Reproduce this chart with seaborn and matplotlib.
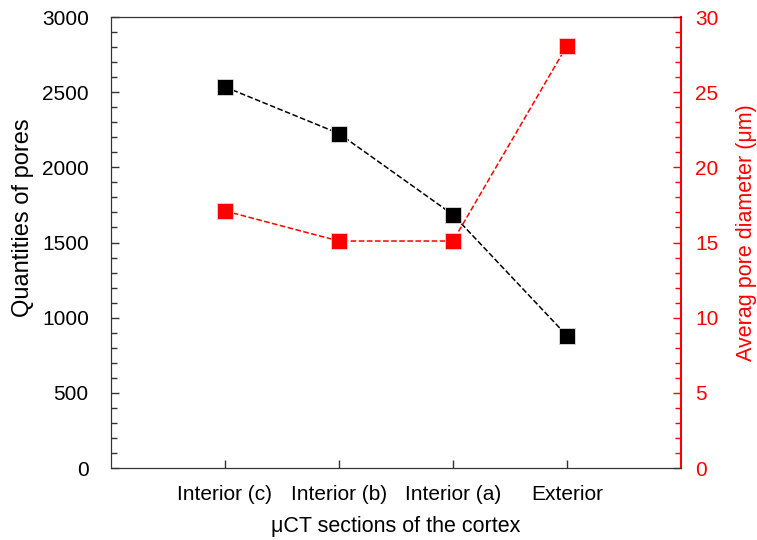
import numpy as np
import matplotlib
matplotlib.use("Agg")
import matplotlib.pyplot as plt
import seaborn as sns
from matplotlib.ticker import MultipleLocator

sns.set_style("ticks")
plt.rcParams['font.family'] = ['Liberation Sans', 'DejaVu Sans']
plt.rcParams['text.color'] = 'black'
plt.rcParams['axes.labelcolor'] = 'black'
plt.rcParams['xtick.labelcolor'] = 'black'
plt.rcParams['ytick.labelcolor'] = 'black'

# data
sections = ['Interior (c)', 'Interior (b)', 'Interior (a)', 'Exterior']
pores = [2535, 2225, 1685, 880]
diameter = [17.1, 15.1, 15.1, 28.1]
xpos = [1, 2, 3, 4]

fig = plt.figure(figsize=(7.57, 5.4), dpi=100)
ax = fig.add_axes([0.1466, 0.1333, 0.8996 - 0.1466, 0.9685 - 0.1333])
ax2 = ax.twinx()

sns.lineplot(x=xpos, y=pores, ax=ax, color='black', linestyle='--', linewidth=1.1,
             marker='s', markersize=11, markeredgecolor='#dddddd', markeredgewidth=0.6)
sns.lineplot(x=xpos, y=diameter, ax=ax2, color='red', linestyle='--', linewidth=1.1,
             marker='s', markersize=11, markeredgecolor='#ffcccc', markeredgewidth=0.6)

ax.set_xlim(0, 5)
ax.set_ylim(0, 3000)
ax2.set_ylim(0, 30)

ax.set_xticks(xpos)
ax.set_xticklabels(sections)
ax.yaxis.set_major_locator(MultipleLocator(500))
ax.yaxis.set_minor_locator(MultipleLocator(100))
ax2.yaxis.set_major_locator(MultipleLocator(5))
ax2.yaxis.set_minor_locator(MultipleLocator(1))

ax.tick_params(axis='both', which='major', direction='in', length=6, width=1,
               labelsize=15, color='#333333', labelcolor='black')
ax.tick_params(axis='x', pad=12)
ax.tick_params(axis='y', which='minor', direction='in', length=4.5, width=1, color='#333333')
ax.tick_params(axis='y', which='major', pad=16)
ax.tick_params(axis='x', top=False)
ax2.tick_params(axis='y', which='major', direction='in', length=6, width=1,
                labelsize=15, pad=10, color='red', labelcolor='red')
ax2.tick_params(axis='y', which='minor', direction='in', length=4.5, width=1, color='red')

for s in ['left', 'top', 'bottom']:
    ax.spines[s].set_color('#333333')
    ax2.spines[s].set_color('#333333')
ax2.spines['right'].set_color('red')
ax2.spines['right'].set_linewidth(1.5)
ax.spines['right'].set_visible(False)

ax.set_xlabel('μCT sections of the cortex', fontsize=15.5, labelpad=9)
ax.set_ylabel('Quantities of pores', fontsize=17, labelpad=8)
ax.yaxis.set_label_coords(-0.135, 0.554)
ax2.set_ylabel('Averag pore diameter (μm)', fontsize=15.5, color='red', labelpad=10)
ax2.yaxis.set_label_coords(1.096, 0.523)

fig.savefig('out.png', dpi=100)
